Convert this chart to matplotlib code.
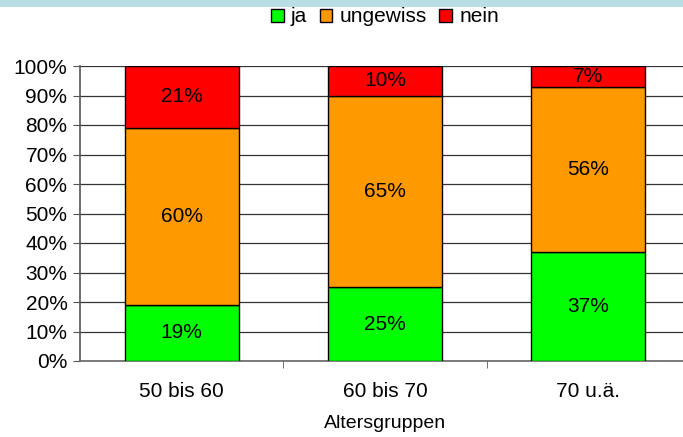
import matplotlib
matplotlib.use("Agg")
import matplotlib.pyplot as plt
from matplotlib.patches import Rectangle
import numpy as np

plt.rcParams['font.family'] = ['Liberation Sans', 'DejaVu Sans']

# data (percent)
groups = ["50 bis 60", "60 bis 70", "70 u.ä."]
ja = [19, 25, 37]
ungewiss = [60, 65, 56]
nein = [21, 10, 7]
series_names = ["ja", "ungewiss", "nein"]
colors = ["#00FF00", "#FF9900", "#FF0000"]

fig = plt.figure(figsize=(6.83, 4.37), dpi=100)
ax = fig.add_axes([80 / 683, 1 - 361 / 437, 610 / 683, 295 / 437])

# light blue strip at the top of the picture
fig.patches.append(Rectangle((0, 1 - 7 / 437), 1, 7 / 437, transform=fig.transFigure,
                             facecolor="#B9DFE4", edgecolor="none", zorder=0))

x = np.arange(len(groups))
bottom = np.zeros(len(groups))
for name, vals, col in zip(series_names, [ja, ungewiss, nein], colors):
    vals = np.array(vals, dtype=float)
    ax.bar(x, vals, 0.56, bottom=bottom, color=col, edgecolor="black",
           linewidth=1, label=name, zorder=3)
    for xi, b, v in zip(x, bottom, vals):
        ax.text(xi, b + v / 2, f"{int(v)}%", ha="center", va="center",
                fontsize=15, zorder=4)
    bottom += vals

ax.set_xlim(-0.5, 2.5)
ax.set_ylim(0, 100)
ax.set_yticks(range(0, 101, 10))
ax.set_yticklabels([f"{v}%" for v in range(0, 101, 10)], fontsize=15)
ax.yaxis.grid(True, color="#333333", linewidth=0.9, zorder=0)
ax.set_axisbelow(True)

ax.set_xticks(x)
ax.set_xticklabels(groups, fontsize=15)
ax.tick_params(axis="x", which="major", length=0, pad=15)
ax.set_xticks([0.5, 1.5], minor=True)
ax.tick_params(axis="x", which="minor", length=5, color="#555555", direction="out")
ax.tick_params(axis="y", length=5, color="#555555", direction="out", pad=4)
ax.set_xlabel("Altersgruppen", fontsize=14, labelpad=10)

for side in ["top", "right"]:
    ax.spines[side].set_visible(False)
ax.spines["left"].set_color("#555555")
ax.spines["bottom"].set_color("#666666")
ax.spines["left"].set_linewidth(1.2)
ax.spines["bottom"].set_linewidth(1.2)

ax.legend(loc="center", bbox_to_anchor=(385 / 683, 1 - 17 / 437),
          bbox_transform=fig.transFigure, ncol=3, frameon=False, fontsize=15,
          handlelength=0.6, handleheight=0.6, handletextpad=0.35,
          columnspacing=0.6, borderpad=0)

fig.savefig("out.png", dpi=100)
